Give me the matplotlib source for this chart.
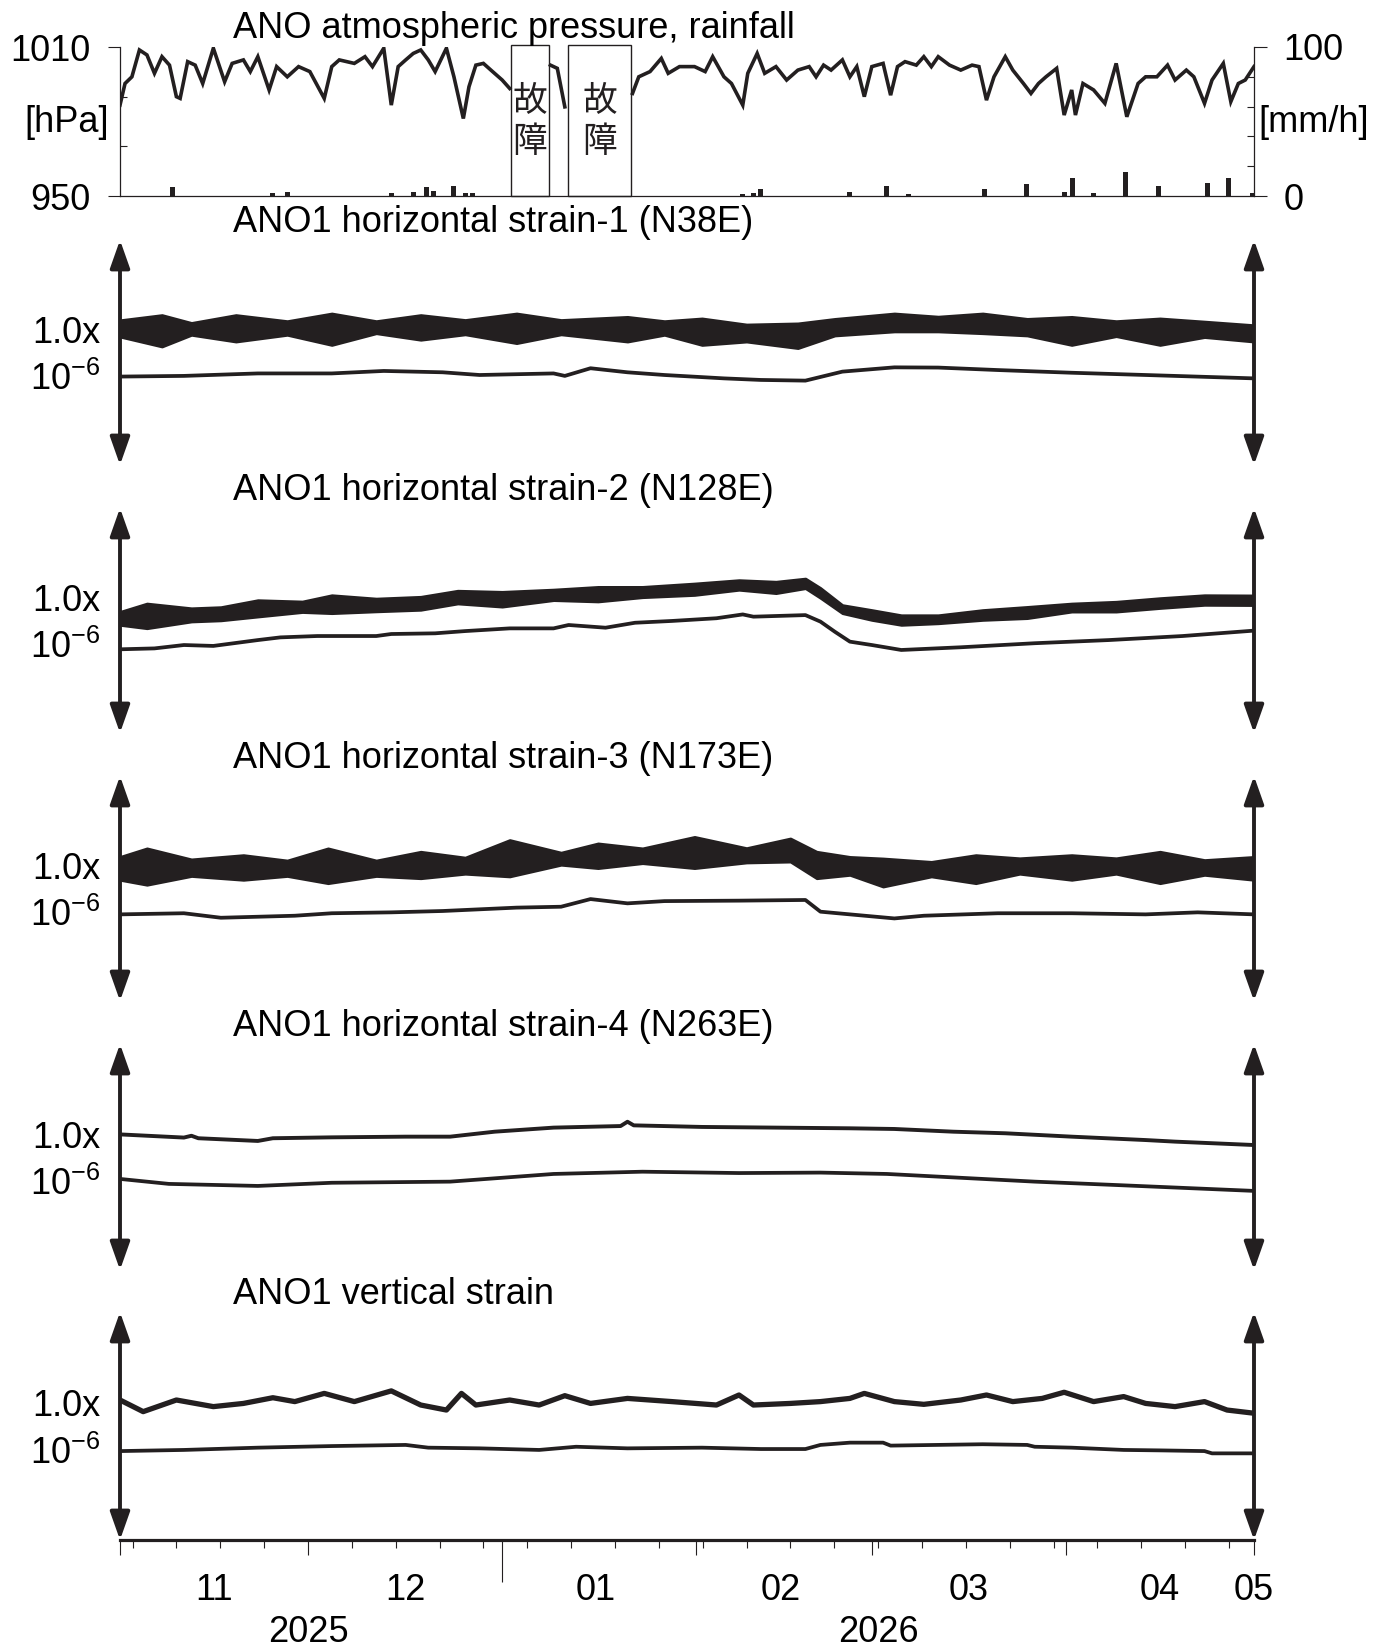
import numpy as np
import matplotlib
matplotlib.use('Agg')
import matplotlib.pyplot as plt
import matplotlib.dates as mdates

plt.rcParams['font.family'] = ['Liberation Sans', 'DejaVu Sans']
INK = '#231f20'
FS = 26

# time axis: days since 2025-11-01
base = mdates.date2num(np.datetime64('2025-11-01'))
n_days = 181
nan = np.nan

# ---------------- atmospheric pressure [hPa] ----------------
press_day = [0, 0.8, 1.9, 3.1, 4.3, 5.5, 6.7, 7.9, 9.0, 9.6, 10.8, 12.0, 13.2, 14.9, 16.7, 17.9,
             19.7, 20.8, 22.0, 23.8, 25.0, 26.7, 28.5, 30.3, 32.6, 33.8, 35.0, 37.4, 39.1, 40.3,
             42.1, 43.3, 44.4, 45.6, 46.8, 48.0, 49.2, 50.3, 52.1, 53.3, 54.8, 55.7, 56.8, 58.0,
             59.2, 61.0, 62.2, nan,
             68.7, 69.8, 71.0, nan,
             81.8, 82.8, 84.6, 86.4, 87.5, 89.3, 91.7, 93.4, 94.6, 96.4, 97.6, 99.4, 100.2, 101.7,
             102.9, 104.7, 106.4, 108.2, 110.0, 111.1, 112.3, 113.5, 115.3, 116.5, 117.6, 118.8,
             120.0, 121.8, 123.0, 124.1, 125.3, 127.1, 128.3, 129.5, 130.6, 132.4, 134.2, 136.0,
             137.1, 138.3, 139.5, 141.3, 142.5, 144.2, 145.4, 146.6, 147.8, 149.5, 150.7, 151.9,
             152.5, 153.7, 155.4, 157.2, 159.0, 160.7, 162.5, 163.7, 165.5, 167.2, 168.4, 170.2,
             171.4, 173.1, 174.3, 176.1, 177.3, 178.5, 179.6, 181.0]
press_hpa = [986.6, 995.3, 998.0, 1008.8, 1006.8, 999.4, 1006.1, 1002.7, 990.0, 989.3, 1004.1,
             1002.7, 995.3, 1009.5, 996.0, 1003.4, 1004.8, 1000.1, 1006.1, 992.7, 1002.1, 998.0,
             1002.1, 1000.1, 989.3, 1002.1, 1004.8, 1003.4, 1006.1, 1002.1, 1009.5, 986.6, 1002.1,
             1004.8, 1007.4, 1008.8, 1004.8, 1000.1, 1009.5, 998.0, 981.2, 994.0, 1002.7, 1003.4,
             1000.7, 996.7, 993.3, nan,
             1002.7, 1001.4, 985.9, nan,
             991.3, 998.0, 1000.1, 1005.4, 999.4, 1002.1, 1002.1, 1000.1, 1006.1, 998.0, 995.3,
             986.6, 999.4, 1007.4, 999.4, 1002.1, 996.7, 1000.7, 1002.1, 998.0, 1002.7, 1000.7,
             1004.8, 998.0, 1002.1, 990.0, 1002.1, 1003.4, 990.6, 1002.1, 1004.1, 1002.7, 1006.1,
             1002.1, 1006.1, 1002.7, 1000.7, 1002.7, 1002.1, 988.6, 998.0, 1006.1, 1000.7, 995.3,
             991.3, 995.3, 998.0, 1001.4, 982.6, 992.7, 982.6, 995.3, 992.7, 987.3, 1003.4, 981.9,
             995.3, 998.0, 998.0, 1002.7, 996.7, 1000.7, 998.0, 987.3, 996.7, 1003.4, 988.0,
             995.3, 996.7, 1002.1]

# ---------------- rainfall [mm/h] ----------------
rain_day = [8.4, 24.4, 26.7, 43.3, 46.8, 48.9, 50.0, 53.3, 55.1, 56.3, 99.4, 101.1, 102.3,
            116.5, 122.3, 125.9, 138.0, 144.7, 150.7, 152.0, 155.4, 160.5, 165.7, 173.5, 177.0, 180.8]
rain_mm = [6, 2, 2.5, 2, 2.5, 6, 3.5, 7, 2, 2, 1.5, 2, 4.5,
           2.5, 6.7, 1.5, 5, 8, 2.5, 12, 2, 16, 7, 9, 12, 2]

# instrument failure periods (故障)
gap_start = [62.4, 71.5]
gap_end = [68.5, 81.6]

# ---------------- strain (units of 1e-6, panel span = 1.0) ----------------
s1_band_day = [0, 6.7, 11.4, 18.5, 26.7, 33.8, 40.9, 48.0, 55.1, 63.3, 70.4, 81.0, 86.9, 92.9,
               100.0, 108.2, 114.1, 123.6, 130.6, 137.7, 144.8, 151.9, 159.0, 166.0, 173.1, 181]
s1_band_hi = [0.644, 0.667, 0.632, 0.667, 0.640, 0.674, 0.640, 0.667, 0.645, 0.674, 0.645, 0.659,
              0.640, 0.652, 0.625, 0.630, 0.650, 0.674, 0.660, 0.674, 0.650, 0.659, 0.640, 0.652,
              0.638, 0.622]
s1_band_lo = [0.570, 0.526, 0.578, 0.548, 0.578, 0.533, 0.585, 0.556, 0.580, 0.541, 0.580, 0.548,
              0.578, 0.533, 0.548, 0.519, 0.575, 0.593, 0.593, 0.585, 0.575, 0.533, 0.572, 0.533,
              0.568, 0.548]
s1_line_day = [0, 10.2, 22.0, 33.8, 42.1, 51.5, 57.4, 69.2, 71.0, 75.1, 81.0, 86.9, 96.4, 102.3,
               109.4, 115.3, 123.6, 130.6, 140.1, 151.9, 163.7, 181]
s1_line = [0.393, 0.396, 0.407, 0.407, 0.418, 0.412, 0.400, 0.407, 0.396, 0.430, 0.412, 0.400,
           0.385, 0.378, 0.375, 0.415, 0.434, 0.433, 0.422, 0.410, 0.400, 0.385]

s2_band_day = [0, 4.3, 11.4, 16.1, 22.0, 29.1, 33.8, 40.9, 48.0, 53.9, 61.0, 69.2, 76.3, 83.4,
               91.7, 98.8, 104.7, 109.4, 111.8, 115.3, 120.0, 124.7, 130.6, 137.7, 144.8, 151.9,
               159.0, 166.0, 173.1, 181]
s2_band_hi = [0.539, 0.576, 0.555, 0.560, 0.591, 0.585, 0.613, 0.598, 0.606, 0.633, 0.628, 0.638,
              0.650, 0.650, 0.665, 0.680, 0.673, 0.687, 0.645, 0.569, 0.547, 0.524, 0.524, 0.547,
              0.561, 0.576, 0.584, 0.600, 0.613, 0.612]
s2_band_lo = [0.480, 0.465, 0.495, 0.500, 0.517, 0.537, 0.532, 0.540, 0.547, 0.575, 0.561, 0.590,
              0.584, 0.603, 0.613, 0.636, 0.621, 0.643, 0.600, 0.532, 0.502, 0.480, 0.487, 0.502,
              0.510, 0.539, 0.539, 0.555, 0.569, 0.568]
s2_line_day = [0, 5.5, 10.2, 14.9, 22.0, 25.6, 31.5, 40.9, 43.3, 50.3, 55.1, 62.2, 69.2, 71.6,
               77.5, 82.2, 88.1, 95.2, 99.4, 101.1, 109.4, 111.8, 114.1, 116.5, 120.0, 124.7,
               134.2, 146.0, 157.8, 169.6, 181]
s2_line = [0.372, 0.376, 0.391, 0.387, 0.413, 0.425, 0.431, 0.431, 0.440, 0.443, 0.453, 0.465,
           0.465, 0.480, 0.468, 0.490, 0.498, 0.510, 0.527, 0.517, 0.524, 0.495, 0.450, 0.406,
           0.391, 0.369, 0.381, 0.399, 0.413, 0.431, 0.455]

s3_band_day = [0, 4.3, 11.4, 19.7, 26.7, 33.2, 40.9, 48.0, 55.1, 62.2, 70.4, 76.3, 83.4, 91.7,
               100.0, 107.0, 111.2, 116.5, 121.8, 129.5, 136.6, 143.6, 151.9, 159.0, 166.0,
               173.1, 181]
s3_band_hi = [0.641, 0.679, 0.630, 0.649, 0.625, 0.679, 0.625, 0.664, 0.638, 0.716, 0.660, 0.701,
              0.679, 0.730, 0.680, 0.723, 0.664, 0.641, 0.634, 0.619, 0.649, 0.635, 0.649, 0.635,
              0.664, 0.627, 0.641]
s3_band_lo = [0.538, 0.516, 0.555, 0.538, 0.555, 0.523, 0.555, 0.545, 0.565, 0.553, 0.605, 0.590,
              0.612, 0.590, 0.615, 0.619, 0.545, 0.560, 0.508, 0.553, 0.523, 0.565, 0.538, 0.565,
              0.523, 0.560, 0.538]
s3_line_day = [0, 10.2, 16.1, 27.9, 33.8, 43.3, 51.5, 63.3, 70.4, 75.1, 81.0, 86.9, 98.8, 109.4,
               111.8, 116.5, 123.6, 128.3, 140.1, 151.9, 163.7, 172.0, 181]
s3_line = [0.385, 0.390, 0.370, 0.379, 0.390, 0.394, 0.400, 0.415, 0.419, 0.453, 0.434, 0.444,
           0.446, 0.449, 0.397, 0.385, 0.367, 0.379, 0.390, 0.390, 0.385, 0.394, 0.385]

s4_upper_day = [0, 10.2, 11.4, 12.5, 22.0, 24.4, 33.8, 45.6, 52.7, 59.8, 69.2, 79.9, 81.0, 82.0,
                92.9, 104.7, 116.5, 123.6, 133.0, 141.3, 151.9, 163.7, 168.4, 181]
s4_upper = [0.600, 0.586, 0.594, 0.583, 0.571, 0.583, 0.587, 0.590, 0.590, 0.612, 0.630, 0.637,
            0.656, 0.640, 0.633, 0.630, 0.627, 0.624, 0.612, 0.605, 0.590, 0.575, 0.568, 0.553]
s4_lower_day = [0, 7.8, 22.0, 33.8, 52.7, 69.2, 83.4, 98.8, 111.8, 122.4, 146.0, 159.0, 181]
s4_lower = [0.403, 0.381, 0.372, 0.386, 0.391, 0.425, 0.435, 0.429, 0.431, 0.425, 0.391, 0.376,
            0.350]

s5_upper_day = [0, 3.7, 9.0, 14.9, 19.7, 24.4, 27.9, 32.6, 37.4, 43.3, 48.0, 52.1, 54.5, 56.8,
                62.2, 66.9, 71.0, 75.1, 81.0, 88.1, 95.2, 98.8, 101.1, 107.0, 111.8, 116.5, 118.8,
                123.6, 128.3, 134.2, 138.3, 142.5, 147.2, 150.7, 155.4, 160.2, 163.7, 168.4,
                173.1, 176.7, 181]
s5_upper = [0.614, 0.563, 0.614, 0.585, 0.599, 0.624, 0.607, 0.643, 0.607, 0.654, 0.592, 0.570,
            0.643, 0.592, 0.614, 0.592, 0.633, 0.599, 0.621, 0.607, 0.592, 0.636, 0.592, 0.599,
            0.607, 0.621, 0.643, 0.607, 0.595, 0.614, 0.636, 0.607, 0.621, 0.648, 0.607, 0.629,
            0.599, 0.585, 0.607, 0.570, 0.556]
s5_lower_day = [0, 10.2, 22.0, 33.8, 45.6, 49.2, 57.4, 66.9, 72.8, 81.0, 92.9, 102.3, 109.4,
                111.8, 116.5, 121.8, 123.0, 137.7, 144.8, 146.0, 151.9, 160.2, 166.1, 173.1,
                174.3, 181]
s5_lower = [0.390, 0.395, 0.405, 0.412, 0.417, 0.405, 0.402, 0.395, 0.409, 0.402, 0.405, 0.399,
            0.399, 0.417, 0.427, 0.427, 0.414, 0.420, 0.417, 0.409, 0.405, 0.395, 0.393, 0.390,
            0.380, 0.380]

titles = ['ANO1 horizontal strain-1 (N38E)', 'ANO1 horizontal strain-2 (N128E)',
          'ANO1 horizontal strain-3 (N173E)', 'ANO1 horizontal strain-4 (N263E)',
          'ANO1 vertical strain']
month_labels = ['11', '12', '01', '02', '03', '04', '05']
month_label_day = [15, 45.5, 76, 105.5, 135.5, 166, 181]
year_labels = ['2025', '2026']
year_label_day = [30, 121]


def X(days):
    return base + np.asarray(days, dtype=float)


# ---------------- layout (pixel positions of the reference) ----------------
W_PX, H_PX = 1394, 1648
fig = plt.figure(figsize=(W_PX / 100, H_PX / 100), dpi=100)
left, width = 120 / W_PX, 1134 / W_PX


def box(top, bottom):
    return [left, 1 - bottom / H_PX, width, (bottom - top) / H_PX]


# ---- top panel: pressure + rainfall ----
ax_p = fig.add_axes(box(47, 196))
ax_p.plot(X(press_day), press_hpa, color=INK, lw=2.6, solid_joinstyle='miter')
ax_p.set_xlim(base, base + n_days)
ax_p.set_ylim(950, 1010)
for s in ['top', 'right']:
    ax_p.spines[s].set_visible(False)
for s in ['left', 'bottom']:
    ax_p.spines[s].set_linewidth(0.9)
    ax_p.spines[s].set_color(INK)
ax_p.tick_params(axis='x', bottom=False, labelbottom=False)
ax_p.set_yticks([950, 1010])
ax_p.set_yticklabels(['950', '1010'], fontsize=FS)
ax_p.set_yticks([970, 990], minor=True)
ax_p.tick_params(axis='y', which='major', length=9, width=0.8, color=INK, pad=12)
ax_p.tick_params(axis='y', which='minor', direction='in', length=5, width=0.8, color=INK)
ax_p.text(-0.047, 0.49, '[hPa]', transform=ax_p.transAxes, ha='center', va='center', fontsize=FS)

ax_r = ax_p.twinx()
ax_r.bar(X(rain_day), rain_mm, width=0.8, color=INK, lw=0)
ax_r.set_ylim(0, 100)
for s in ['top', 'left', 'bottom']:
    ax_r.spines[s].set_visible(False)
ax_r.spines['right'].set_linewidth(0.9)
ax_r.spines['right'].set_color(INK)
ax_r.set_yticks([0, 100])
ax_r.set_yticklabels(['0', '100'], fontsize=FS)
ax_r.set_yticks([20, 40, 60, 80], minor=True)
ax_r.tick_params(axis='y', which='major', length=9, width=0.8, color=INK, pad=12)
ax_r.tick_params(axis='y', which='minor', direction='in', length=5, width=0.8, color=INK)
ax_r.text(1.053, 0.49, '[mm/h]', transform=ax_r.transAxes, ha='center', va='center', fontsize=FS)

for s, e in zip(gap_start, gap_end):
    ax_p.axvspan(X(s), X(e), ymin=0, ymax=1.015, fill=False, ec=INK, lw=1.0, clip_on=False)
    ax_p.text(X((s + e) / 2), 0.5, '故\n障', transform=ax_p.get_xaxis_transform(),
              ha='center', va='center', fontsize=25, linespacing=1.25,
              family=['Noto Sans CJK JP', 'DejaVu Sans'], color=INK)

ax_p.text(0.0996, 1.125, 'ANO atmospheric pressure, rainfall', transform=ax_p.transAxes,
          ha='left', va='center', fontsize=FS)

# ---- strain panels ----
tops = [240, 508, 776, 1044, 1312]
bottoms = [465, 733, 1001, 1270, 1540]
axes = [fig.add_axes(box(t, b)) for t, b in zip(tops, bottoms)]

bands = [(s1_band_day, s1_band_lo, s1_band_hi),
         (s2_band_day, s2_band_lo, s2_band_hi),
         (s3_band_day, s3_band_lo, s3_band_hi)]
lines = [[(s1_line_day, s1_line)],
         [(s2_line_day, s2_line)],
         [(s3_line_day, s3_line)],
         [(s4_upper_day, s4_upper), (s4_lower_day, s4_lower)],
         [(s5_upper_day, s5_upper), (s5_lower_day, s5_lower)]]
line_widths = [[2.7], [2.7], [2.7], [2.8, 2.7], [3.8, 2.7]]

for i, ax in enumerate(axes):
    ax.set_xlim(base, base + n_days)
    ax.set_ylim(0, 1)
    if i < 3:
        d, lo, hi = bands[i]
        ax.fill_between(X(d), lo, hi, color=INK, lw=1.8, ec=INK)
    for (d, v), lw in zip(lines[i], line_widths[i]):
        ax.plot(X(d), v, color=INK, lw=lw)
    for xv in (base, base + n_days):
        ax.annotate('', xy=(xv, 1.0), xytext=(xv, 0.0), annotation_clip=False,
                    arrowprops=dict(arrowstyle='<|-|>,head_length=0.85,head_width=0.3',
                                    mutation_scale=20, lw=2.8, color=INK,
                                    shrinkA=0, shrinkB=0))
    ax.text(-0.0176, 0.542, '1.0x', transform=ax.transAxes, ha='right', va='baseline',
            fontsize=FS)
    ax.text(-0.0176, 0.333, r'$\mathregular{10^{-6}}$', transform=ax.transAxes, ha='right',
            va='baseline', fontsize=FS)
    ax.text(0.0996, 1.0 + 17 / 225, titles[i], transform=ax.transAxes, ha='left',
            va='center', fontsize=FS)
    for s in ['top', 'left', 'right']:
        ax.spines[s].set_visible(False)
    ax.set_yticks([])
    if i < 4:
        ax.spines['bottom'].set_visible(False)
        ax.set_xticks([])

# ---- bottom time axis ----
ax5 = axes[-1]
ax5.spines['bottom'].set_linewidth(2.3)
ax5.spines['bottom'].set_color(INK)
ax5.xaxis.set_major_locator(mdates.MonthLocator())
ax5.xaxis.set_minor_locator(mdates.WeekdayLocator(byweekday=mdates.MO))
ax5.tick_params(axis='x', which='major', length=10.5, width=0.8, color=INK,
                labelbottom=False)
ax5.tick_params(axis='x', which='minor', length=5.8, width=0.8, color=INK)
locs = ax5.xaxis.get_majorticklocs()
for loc, tk in zip(locs, ax5.xaxis.get_major_ticks(len(locs))):
    if mdates.num2date(loc).month == 1:
        tk.tick1line.set_markersize(30)

tr = ax5.get_xaxis_transform()
for lab, d in zip(month_labels, month_label_day):
    ax5.text(X(d), -51 / 228, lab, transform=tr, ha='center', va='center', fontsize=FS)
for lab, d in zip(year_labels, year_label_day):
    ax5.text(X(d), -92 / 228, lab, transform=tr, ha='center', va='center', fontsize=FS)

fig.savefig('out.png', dpi=100)
